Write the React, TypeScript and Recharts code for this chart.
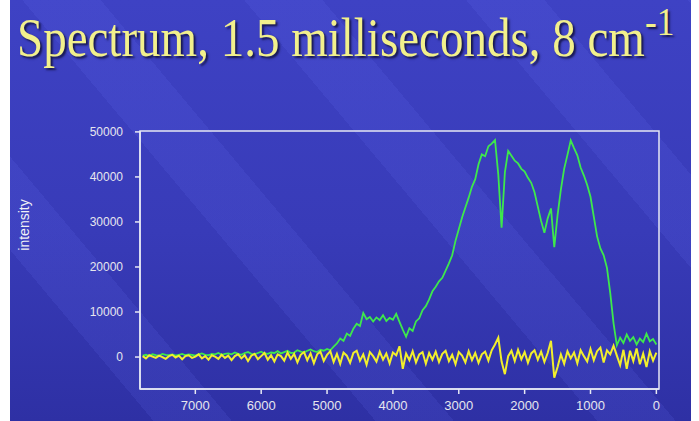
import { LineChart, Line, XAxis, YAxis, ReferenceArea } from "recharts";

// sampling grid, cm-1 (left to right on the reversed axis)
const wavenumbers = Array.from({ length: 157 }, (_, i) => 7800 - i * 50);

// green trace: spectrum at 1.5 ms
const spectrum = [
  300, 500, 200, 600, 400, 300, 700, 500, 400, 600, // 7800-7350
  300, 500, 700, 400, 600, 500, 300, 600, 800, 500, // 7300-6850
  400, 700, 600, 900, 500, 700, 800, 600, 1000, 700, // 6800-6350
  500, 900, 1100, 700, 600, 900, 1200, 800, 700, 1000, // 6300-5850
  900, 1300, 800, 1100, 1400, 900, 1000, 1500, 1200, 1000, // 5800-5350
  1400, 1700, 1300, 1100, 1600, 1400, 1800, 1500, 2300, 3000, // 5300-4850
  4100, 3600, 5200, 4700, 6300, 7400, 6900, 9800, 8400, 8900, // 4800-4350
  7900, 8800, 8200, 9300, 8000, 8700, 8300, 9600, 7800, 6100, // 4300-3850
  4500, 6400, 5800, 7900, 8600, 10400, 11300, 12800, 14600, 15600, // 3800-3350
  16800, 17600, 19200, 20800, 22600, 25800, 28400, 31000, 33200, 35400, // 3300-2850
  37800, 39500, 42800, 45000, 44600, 46800, 47400, 48200, 40500, 28700, // 2800-2350
  41000, 45800, 44700, 43600, 43000, 41800, 41200, 39800, 38700, 36600, // 2300-1850
  33400, 30200, 27600, 30800, 33000, 24400, 31500, 37200, 41800, 44900, // 1800-1350
  48100, 46400, 44800, 42100, 40300, 38200, 35600, 31200, 26800, 24100, // 1300-850
  22600, 19800, 14200, 7500, 2600, 4300, 3100, 5000, 3600, 4400, // 800-350
  2800, 4100, 3300, 5200, 3500, 4000, 2800, // 300-0
];

// yellow trace: background / noise
const noise = [
  200, -300, 400, 100, -200, 300, 0, -400, 200, 500,
  -100, 300, -500, 200, 400, -200, 100, 600, -300, 200,
  -600, 400, 100, -400, 500, -200, 300, -700, 200, 600,
  -300, 400, -900, 300, 700, -500, 200, 900, -600, 400,
  -1000, 600, 200, -800, 1000, -400, 700, -1200, 500, 1100,
  -700, 800, -1400, 600, 1200, -900, 500, 1300, -1100, 700,
  -1500, 1000, 300, -1300, 900, 1400, -800, 600, -1700, 1100,
  200, -1000, 1200, -600, 800, -1400, 1000, 400, 2400, -2600,
  800, -700, 1300, -1200, 600, 1100, -1500, 900, -600, 1200,
  -1100, 700, 1400, -900, 500, -1600, 1100, 300, -1200, 1300,
  -700, 900, -1300, 600, 1200, -800, 1500, 2800, 4300, -1000,
  -3800, 200, 1400, -900, 1600, -500, 1100, -1300, 800, 1500,
  -600, 1200, -1100, 900, 3600, -4600, -2200, 600, -1500, 1300,
  -300, 1000, -1400, 1500, 200, -1000, 1800, -700, 1300, 2100,
  -1200, 1500, 600, 2500, 300, -1800, 1600, -2600, 1400, -900,
  1900, -1600, 800, -2200, 1300, -800, 1000,
];

const xTicks = [7000, 6000, 5000, 4000, 3000, 2000, 1000, 0];
const yTicks = [0, 10000, 20000, 30000, 40000, 50000];

const data = wavenumbers.map((wn, i) => ({ wn, spectrum: spectrum[i], noise: noise[i] }));

const X_DOMAIN: [number, number] = [-40, 7840];
const Y_DOMAIN: [number, number] = [-7100, 50200];
const axisColor = "#e6e8f4";

export default function App() {
  return (
    <div style={{ position: "absolute", left: 0, top: 0, width: 699, height: 421, background: "#fff", overflow: "hidden" }}>
      <div
        style={{
          position: "absolute",
          left: 10,
          top: 0,
          width: 681,
          height: 421,
          background:
            "repeating-linear-gradient(50deg, rgba(110,120,255,0) 0px, rgba(110,120,255,0) 110px, rgba(110,120,255,0.12) 110px, rgba(110,120,255,0.12) 170px), linear-gradient(180deg, #3e42c4 0%, #383bb8 55%, #2e30a4 100%)",
        }}
      />
      <div
        style={{
          position: "absolute",
          left: 17,
          top: 18,
          fontFamily: "'Liberation Serif', serif",
          fontSize: 47,
          lineHeight: 1,
          color: "#f2f08c",
          whiteSpace: "nowrap",
          textShadow: "2px 2px 2px #16164a",
          transform: "scale(1, 1.15)",
          transformOrigin: "left bottom",
        }}
      >
        Spectrum, 1.5 milliseconds, 8 cm
        <span style={{ fontSize: "0.75em", position: "relative", top: "-0.5em" }}>-1</span>
      </div>
      <div
        style={{
          position: "absolute",
          left: 24,
          top: 225,
          transform: "translate(-50%, -50%) rotate(-90deg)",
          fontFamily: "'Liberation Sans', Arial, sans-serif",
          fontSize: 14,
          color: "#f0f0f6",
          whiteSpace: "nowrap",
        }}
      >
        intensity
      </div>
      <div style={{ position: "absolute", left: 0, top: 0 }}>
        <LineChart width={699} height={421} data={data} margin={{ top: 131, right: 40, bottom: 0, left: 0 }}>
          <XAxis
            dataKey="wn"
            type="number"
            domain={X_DOMAIN}
            allowDataOverflow
            reversed
            ticks={xTicks}
            height={32}
            tickSize={5}
            tickMargin={7}
            stroke={axisColor}
            strokeWidth={1.5}
            tick={{ fill: "#e6e6ee", fontSize: 13, fontFamily: "Liberation Sans" }}
          />
          <YAxis
            type="number"
            domain={Y_DOMAIN}
            allowDataOverflow
            ticks={yTicks}
            width={140}
            tickSize={5}
            tickMargin={12}
            stroke={axisColor}
            strokeWidth={1.5}
            tick={{ fill: "#e6e6ee", fontSize: 12, fontFamily: "Liberation Sans" }}
          />
          <ReferenceArea
            x1={X_DOMAIN[0]}
            x2={X_DOMAIN[1]}
            y1={Y_DOMAIN[0]}
            y2={Y_DOMAIN[1]}
            fill="none"
            fillOpacity={0}
            stroke={axisColor}
            strokeWidth={1.5}
          />
          <Line dataKey="spectrum" stroke="#3ee84c" strokeWidth={1.8} dot={false} isAnimationActive={false} />
          <Line dataKey="noise" stroke="#f2ef2c" strokeWidth={2} dot={false} isAnimationActive={false} />
        </LineChart>
      </div>
    </div>
  );
}
